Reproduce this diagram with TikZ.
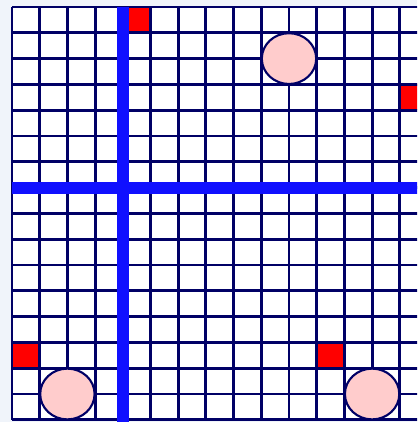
\documentclass[tikz,border=0pt]{standalone}
\usepackage{xcolor}
\definecolor{GridNavy}  {RGB}{0,   0, 102}
\definecolor{AxisBlue}  {RGB}{16, 16, 255}
\definecolor{HotRed}    {RGB}{255, 0,   0}
\definecolor{DiscPink}  {RGB}{255, 204, 204}
\definecolor{PaleBack}  {RGB}{240, 244, 250}
\usetikzlibrary{shapes.geometric}

\begin{document}
\begin{tikzpicture}[
  x=0.6925cm, y=-0.645cm,
  gridline/.style={
    draw=GridNavy, line width=2.1pt},
  axisline/.style={
    draw=AxisBlue, line width=8.6pt},
  hotcell/.style={
    fill=HotRed, draw=none,
    minimum width=0.6925cm,
    minimum height=0.645cm,
    inner sep=0pt},
  disc/.style={
    ellipse, fill=DiscPink,
    draw=GridNavy, line width=1.5pt,
    minimum width=1.36cm,
    minimum height=1.27cm,
    inner sep=0pt}
]

\useasboundingbox (-0.433,-0.271) rectangle (14.621,16.085);
\clip (-0.433,-0.271) rectangle (14.621,16.085);
\fill[PaleBack] (-0.433,-0.271) rectangle (14.621,16.085);
\fill[white] (0,0) rectangle (15,16);

% red cells
\node[hotcell] (r1) at (4.5,0.5) {};
\node[hotcell] (r2) at (14.5,3.5) {};
\node[hotcell] (r3) at (0.5,13.5) {};
\node[hotcell] (r4) at (11.5,13.5) {};

% grid
\foreach \i in {0,...,15}
  \draw[gridline] (\i,0) -- (\i,16);
\foreach \j in {0,...,16}
  \draw[gridline] (0,\j) -- (15,\j);

% axes
\draw[axisline] (4,0) -- (4,16.1);
\draw[axisline] (0,7) -- (15,7);

% discs
\node[disc] (d1) at (10,2) {};
\node[disc] (d2) at (2,15) {};
\node[disc] (d3) at (13,15) {};
\end{tikzpicture}
\end{document}
